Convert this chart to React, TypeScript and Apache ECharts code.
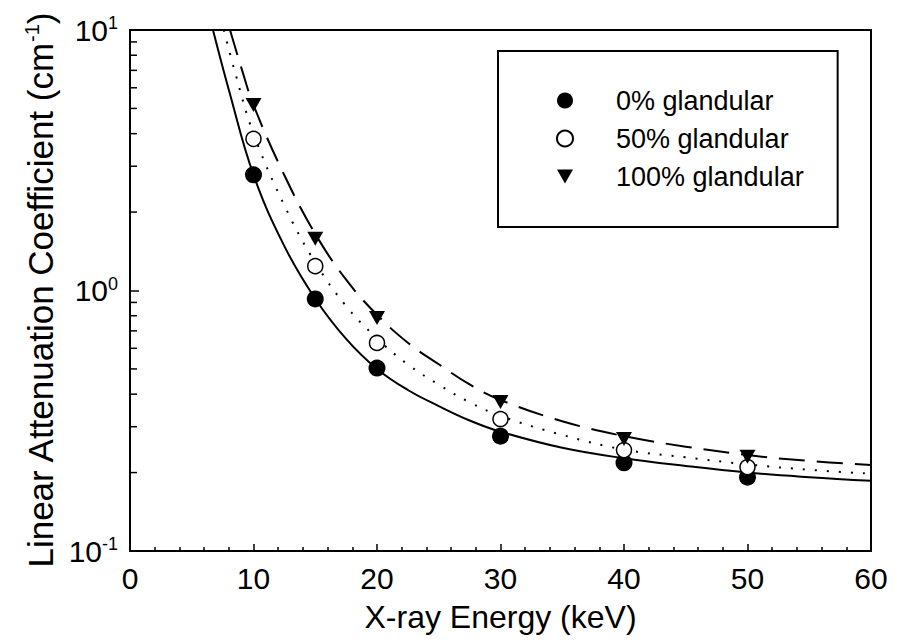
import React, { useEffect, useRef } from "react";
import * as echarts from "echarts";

// Measured points (keV, cm^-1)
const energies = [10, 15, 20, 30, 40, 50];
const glandular0 = [2.78, 0.928, 0.504, 0.276, 0.218, 0.192];
const glandular50 = [3.82, 1.24, 0.629, 0.321, 0.244, 0.21];
const glandular100 = [5.15, 1.58, 0.784, 0.373, 0.269, 0.23];

// Fitted curves
const fit0E = [6.72, 8, 10, 12.5, 15, 17.5, 20, 22.5, 25, 27.5, 30, 35, 40, 45, 50, 55, 60];
const fit0 = [10, 5.9, 2.78, 1.48, 0.93, 0.652, 0.5, 0.415, 0.36, 0.317, 0.287, 0.249, 0.227, 0.212, 0.2, 0.192, 0.186];
const fit50E = [7.6, 8.5, 10, 12.5, 15, 17.5, 20, 22.5, 25, 27.5, 30, 35, 40, 45, 50, 55, 60];
const fit50 = [10, 6.9, 4.0, 2.12, 1.28, 0.872, 0.655, 0.52, 0.435, 0.372, 0.33, 0.279, 0.245, 0.229, 0.215, 0.205, 0.198];
const fit100E = [8.1, 9, 10, 12.5, 15, 17.5, 20, 22.5, 25, 27.5, 30, 35, 40, 45, 50, 55, 60];
const fit100 = [10, 7.2, 5.15, 2.77, 1.65, 1.1, 0.807, 0.63, 0.521, 0.436, 0.38, 0.315, 0.276, 0.2515, 0.2335, 0.2216, 0.214];

const seriesNames = ["0% glandular", "50% glandular", "100% glandular"];
const yMinorTicks = [0.2, 0.3, 0.4, 0.5, 0.6, 0.7, 0.8, 0.9, 2, 3, 4, 5, 6, 7, 8, 9];

const FONT = "'Liberation Sans', Arial, Helvetica, sans-serif";
const TRI_DOWN = "path://M0,0L16,0L8,14Z";

const pairs = (xs: number[], ys: number[]) => xs.map((x, i) => [x, ys[i]]);

export default function App() {
  const ref = useRef<HTMLDivElement>(null);

  useEffect(() => {
    if (!ref.current) return;
    const chart = echarts.init(ref.current, null, { renderer: "svg" });
    const fitLine = (name: string, xs: number[], ys: number[], type: any) => ({
      name,
      type: "line",
      data: pairs(xs, ys),
      smooth: 0.4,
      showSymbol: false,
      lineStyle: { color: "#000", width: 2, type },
      z: 2,
      silent: true,
    });
    const option: any = {
      animation: false,
      backgroundColor: "#fff",
      textStyle: { fontFamily: FONT, color: "#000" },
      grid: {
        left: 130,
        right: 27,
        top: 30,
        bottom: 89,
        show: true,
        borderColor: "#000",
        borderWidth: 2,
        backgroundColor: "transparent",
      },
      legend: {
        data: seriesNames,
        orient: "vertical",
        left: 498,
        top: 51,
        padding: [36, 34, 37, 58],
        borderColor: "#000",
        borderWidth: 2,
        borderRadius: 0,
        itemWidth: 16,
        itemHeight: 16,
        itemGap: 11,
        textStyle: {
          fontSize: 27,
          fontFamily: FONT,
          color: "#000",
          lineHeight: 27,
          padding: [0, 0, 0, 38],
        },
      },
      xAxis: {
        type: "value",
        min: 0,
        max: 60,
        interval: 10,
        axisLine: { lineStyle: { color: "#000", width: 2 } },
        axisTick: { inside: true, length: 7, lineStyle: { color: "#000", width: 1.5 } },
        minorTick: { show: true, splitNumber: 5, length: 4, lineStyle: { color: "#000", width: 1.5 } },
        splitLine: { show: false },
        axisLabel: { fontSize: 30, color: "#000", margin: 12, fontFamily: FONT },
        name: "X-ray Energy (keV)",
        nameLocation: "middle",
        nameGap: 50,
        nameTextStyle: { fontSize: 32, color: "#000", fontFamily: FONT },
      },
      yAxis: {
        type: "log",
        logBase: 10,
        min: 0.1,
        max: 10,
        axisLine: { show: true, lineStyle: { color: "#000", width: 2 } },
        axisTick: { show: true, inside: true, length: 9, lineStyle: { color: "#000", width: 1.5 } },
        splitLine: { show: false },
        axisLabel: {
          margin: 12,
          formatter: (v: number) => `{b|10}{s|${Math.round(Math.log10(v))}}`,
          rich: {
            b: { fontSize: 30, color: "#000", fontFamily: FONT },
            s: { fontSize: 18, color: "#000", fontFamily: FONT, padding: [0, 0, 14, 0] },
          },
        },
        name: "{t|Linear Attenuation Coefficient (cm}{s|-1}{t|)}",
        nameLocation: "middle",
        nameGap: 70,
        nameTextStyle: {
          rich: {
            t: { fontSize: 35, color: "#000", fontFamily: FONT },
            s: { fontSize: 20, color: "#000", fontFamily: FONT, padding: [0, 0, 17, 0] },
          },
        },
      },
      series: [
        fitLine("fit0", fit0E, fit0, "solid"),
        fitLine("fit50", fit50E, fit50, [2, 10]),
        fitLine("fit100", fit100E, fit100, [26, 12]),
        {
          name: seriesNames[0],
          type: "scatter",
          data: pairs(energies, glandular0),
          symbol: "circle",
          symbolSize: 17,
          itemStyle: { color: "#000", opacity: 1 },
          z: 3,
        },
        {
          name: seriesNames[1],
          type: "scatter",
          data: pairs(energies, glandular50),
          symbol: "circle",
          symbolSize: 15,
          itemStyle: { color: "#fff", borderColor: "#000", borderWidth: 1.5, opacity: 1 },
          z: 4,
        },
        {
          name: seriesNames[2],
          type: "scatter",
          data: pairs(energies, glandular100),
          symbol: TRI_DOWN,
          symbolSize: [16, 14],
          itemStyle: { color: "#000", opacity: 1 },
          z: 5,
        },
        {
          name: "yMinor",
          type: "custom",
          coordinateSystem: "cartesian2d",
          data: yMinorTicks.map((v) => [0, v]),
          encode: { x: 0, y: 1 },
          silent: true,
          clip: false,
          z: 6,
          renderItem: (_params: any, api: any) => {
            const p = api.coord([0, api.value(1)]);
            return {
              type: "line",
              shape: { x1: p[0], y1: p[1], x2: p[0] + 7, y2: p[1] },
              style: { stroke: "#000", lineWidth: 1.5 },
            };
          },
        },
      ],
    };
    chart.setOption(option);
    return () => chart.dispose();
  }, []);

  return (
    <div
      ref={ref}
      style={{ position: "fixed", left: 0, top: 0, width: 898, height: 640, background: "#fff" }}
    />
  );
}
